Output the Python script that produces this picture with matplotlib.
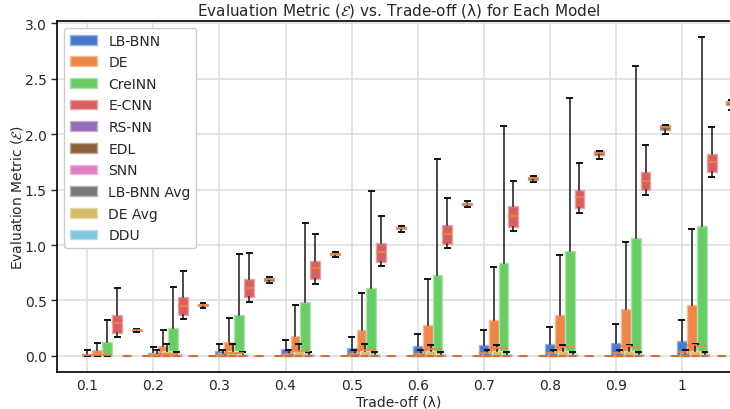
import matplotlib
matplotlib.use("Agg")
import matplotlib.pyplot as plt
import matplotlib.colors as mcolors
import numpy as np

lambdas = ["0.1", "0.2", "0.3", "0.4", "0.5", "0.6", "0.7", "0.8", "0.9", "1"]
models = ["LB-BNN", "DE", "CreINN", "E-CNN", "RS-NN", "EDL", "SNN",
          "LB-BNN Avg", "DE Avg", "DDU"]
colors = ["#4878d0", "#ee854a", "#6acc64", "#d65f5f", "#956cb4",
          "#8c613c", "#dc7ec0", "#797979", "#d5bb67", "#82c6e2"]

zeros = [0, 0, 0, 0, 0, 0, 0, 0, 0, 0]

# LB-BNN
lbbnn_med = [0.005, 0.01, 0.01, 0.015, 0.02, 0.02, 0.025, 0.03, 0.03, 0.035]
lbbnn_q3 = [0.02, 0.03, 0.045, 0.06, 0.07, 0.09, 0.10, 0.11, 0.12, 0.135]
lbbnn_hi = [0.05, 0.08, 0.11, 0.14, 0.17, 0.20, 0.23, 0.26, 0.29, 0.32]
# DE
de_med = [0.01, 0.02, 0.03, 0.04, 0.05, 0.06, 0.07, 0.08, 0.09, 0.10]
de_q3 = [0.05, 0.09, 0.13, 0.18, 0.23, 0.28, 0.32, 0.37, 0.42, 0.46]
de_hi = [0.12, 0.23, 0.34, 0.46, 0.57, 0.69, 0.80, 0.91, 1.03, 1.14]
# CreINN
creinn_med = [0.01, 0.02, 0.03, 0.04, 0.05, 0.06, 0.07, 0.08, 0.08, 0.09]
creinn_q3 = [0.13, 0.25, 0.37, 0.49, 0.61, 0.73, 0.84, 0.95, 1.06, 1.17]
creinn_hi = [0.32, 0.62, 0.92, 1.20, 1.49, 1.78, 2.07, 2.33, 2.61, 2.88]
# E-CNN
ecnn_lo = [0.17, 0.33, 0.49, 0.65, 0.81, 0.97, 1.13, 1.29, 1.45, 1.61]
ecnn_q1 = [0.21, 0.37, 0.53, 0.69, 0.85, 1.01, 1.16, 1.33, 1.50, 1.66]
ecnn_med = [0.30, 0.45, 0.61, 0.79, 0.94, 1.10, 1.26, 1.43, 1.58, 1.75]
ecnn_q3 = [0.37, 0.53, 0.69, 0.86, 1.02, 1.18, 1.35, 1.50, 1.66, 1.82]
ecnn_hi = [0.61, 0.77, 0.93, 1.10, 1.26, 1.42, 1.58, 1.74, 1.90, 2.06]
# EDL
edl_lo = [0.22, 0.43, 0.66, 0.89, 1.12, 1.34, 1.57, 1.78, 2.00, 2.22]
edl_q1 = [0.225, 0.45, 0.68, 0.91, 1.14, 1.36, 1.59, 1.81, 2.04, 2.265]
edl_med = [0.23, 0.46, 0.69, 0.92, 1.15, 1.37, 1.60, 1.83, 2.06, 2.28]
edl_q3 = [0.235, 0.47, 0.70, 0.93, 1.16, 1.38, 1.61, 1.845, 2.08, 2.30]
edl_hi = [0.24, 0.48, 0.71, 0.94, 1.17, 1.40, 1.62, 1.85, 2.08, 2.31]
# averages / DDU
lbbnn_avg_q3 = [0.03, 0.03, 0.03, 0.03, 0.03, 0.03, 0.03, 0.03, 0.03, 0.03]
lbbnn_avg_hi = [0.05, 0.05, 0.05, 0.05, 0.05, 0.05, 0.05, 0.05, 0.05, 0.05]
de_avg_q3 = [0.04, 0.04, 0.04, 0.04, 0.04, 0.04, 0.04, 0.04, 0.04, 0.04]
de_avg_hi = [0.11, 0.11, 0.11, 0.11, 0.10, 0.10, 0.10, 0.10, 0.11, 0.11]
ddu_q3 = [0.015, 0.015, 0.015, 0.015, 0.015, 0.015, 0.015, 0.015, 0.015, 0.015]
ddu_hi = [0.035, 0.035, 0.035, 0.035, 0.035, 0.035, 0.035, 0.035, 0.035, 0.035]

series = {
    "LB-BNN": (zeros, zeros, lbbnn_med, lbbnn_q3, lbbnn_hi),
    "DE": (zeros, zeros, de_med, de_q3, de_hi),
    "CreINN": (zeros, zeros, creinn_med, creinn_q3, creinn_hi),
    "E-CNN": (ecnn_lo, ecnn_q1, ecnn_med, ecnn_q3, ecnn_hi),
    "RS-NN": (zeros, zeros, zeros, zeros, zeros),
    "EDL": (edl_lo, edl_q1, edl_med, edl_q3, edl_hi),
    "SNN": (zeros, zeros, zeros, zeros, zeros),
    "LB-BNN Avg": (zeros, zeros, zeros, lbbnn_avg_q3, lbbnn_avg_hi),
    "DE Avg": (zeros, zeros, zeros, de_avg_q3, de_avg_hi),
    "DDU": (zeros, zeros, zeros, ddu_q3, ddu_hi),
}

plt.rcParams["font.family"] = ["DejaVu Sans"]
plt.rcParams["text.color"] = "#262626"
plt.rcParams["axes.labelcolor"] = "#262626"
plt.rcParams["xtick.color"] = "#262626"
plt.rcParams["ytick.color"] = "#262626"


def lighter(c, amount=0.45):
    return mcolors.to_hex((1 - amount) * np.array(mcolors.to_rgb(c)) + amount)


fig = plt.figure(figsize=(7.3, 4.1), dpi=100)
ax = fig.add_axes([57 / 730, 37 / 410, 683 / 730, 351 / 410])

width = 0.15
x = np.arange(len(lambdas))
for k, name in enumerate(models):
    lo, q1, med, q3, hi = series[name]
    stats = []
    for i in range(len(lambdas)):
        stats.append(dict(whislo=lo[i], q1=q1[i], med=med[i], q3=q3[i],
                          whishi=hi[i], fliers=[]))
    c = colors[k]
    ax.bxp(stats, positions=x + k * width, widths=width, patch_artist=True,
           manage_ticks=False,
           boxprops=dict(facecolor=c, edgecolor=lighter(c), linewidth=1),
           whiskerprops=dict(color="#2a2a2a", linewidth=1.2),
           capprops=dict(color="#111111", linewidth=1.4),
           medianprops=dict(color="#ee854a", linewidth=1.2))

ax.set_xticks(x)
ax.set_xticklabels(lambdas)
ax.set_xlim(-0.46, 9.88)
ax.set_ylim(-0.145, 3.02)
ax.set_yticks([0, 0.5, 1.0, 1.5, 2.0, 2.5, 3.0])
ax.grid(True, color="#dddddd", linewidth=1.1)
ax.set_axisbelow(True)
for s in ax.spines.values():
    s.set_color("black")
    s.set_linewidth(1.2)
ax.tick_params(axis="y", labelsize=10, length=4, width=1)
ax.tick_params(axis="x", labelsize=10, length=0, pad=4)

ax.set_title("Evaluation Metric ($\\mathcal{E}$) vs. Trade-off (λ) for Each Model",
             fontsize=11, pad=5)
ax.set_xlabel("Trade-off (λ)", fontsize=10, labelpad=2)
ax.set_ylabel("Evaluation Metric ($\\mathcal{E}$)", fontsize=10, labelpad=0)

handles = [plt.Rectangle((0, 0), 1, 1, facecolor=c, edgecolor=lighter(c))
           for c in colors]
ax.legend(handles, models, loc="upper left", fontsize=10, labelspacing=0.55,
          framealpha=1, edgecolor="#cccccc")

fig.savefig("out.png", dpi=100)
